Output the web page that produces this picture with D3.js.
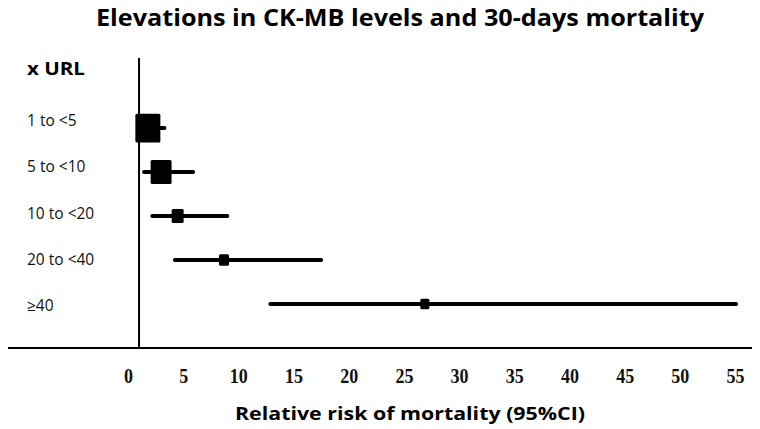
<!DOCTYPE html>
<html><head><meta charset="utf-8">
<script src="https://cdn.jsdelivr.net/npm/d3@7"></script>
<style>body{margin:0;background:#fff}svg{display:block}</style>
</head><body>
<svg id="c" width="760" height="429"></svg>
<script>
const categories = ["1 to <5", "5 to <10", "10 to <20", "20 to <40", "≥40"];
const estimates  = [1.8, 3.0, 4.5, 8.7, 26.9];
const lowerCI    = [1.2, 1.45, 2.2, 4.25, 12.9];
const upperCI    = [3.3, 5.9, 9.0, 17.5, 55.1];
const weights    = [100, 70, 23, 16, 13];
const xTicks     = [0, 5, 10, 15, 20, 25, 30, 35, 40, 45, 50, 55];

const svg = d3.select("#c");
const x = d3.scaleLinear().domain([0, 55]).range([128, 735]);
const yMark = d3.scalePoint().domain(categories).range([128, 304]);
const yLab = d3.scalePoint().domain(categories).range([126, 311]);
const size = d3.scaleSqrt().domain([0, 100]).range([0, 25]);

// title
svg.append("text").attr("x", 400).attr("y", 26).attr("text-anchor", "middle")
  .attr("font-family", "Open Sans").attr("font-weight", "bold").attr("font-size", 24)
  .attr("textLength", 608).attr("lengthAdjust", "spacingAndGlyphs")
  .text("Elevations in CK-MB levels and 30-days mortality");

svg.append("text").attr("x", 27).attr("y", 75)
  .attr("font-family", "Open Sans").attr("font-weight", "bold").attr("font-size", 18)
  .attr("textLength", 58).attr("lengthAdjust", "spacingAndGlyphs")
  .text("x URL");

// row labels
svg.append("g").selectAll("text").data(categories).join("text")
  .attr("x", 27).attr("y", d => yLab(d))
  .attr("font-family", "Open Sans").attr("font-size", 15.5).attr("fill", "#111")
  .text(d => d);

// reference line at 1
svg.append("line").attr("x1", x(1)).attr("x2", x(1)).attr("y1", 58).attr("y2", 348)
  .attr("stroke", "#000").attr("stroke-width", 2);

// horizontal axis line
svg.append("line").attr("x1", 8).attr("x2", 752).attr("y1", 348).attr("y2", 348)
  .attr("stroke", "#000").attr("stroke-width", 2);

// CI lines
const rows = categories.map((c, i) => ({c, est: estimates[i], lo: lowerCI[i], hi: upperCI[i], w: weights[i]}));
svg.append("g").selectAll("line").data(rows).join("line")
  .attr("x1", d => x(d.lo)).attr("x2", d => x(d.hi))
  .attr("y1", d => yMark(d.c)).attr("y2", d => yMark(d.c))
  .attr("stroke", "#000").attr("stroke-width", 4).attr("stroke-linecap", "round");

// squares
svg.append("g").selectAll("rect").data(rows).join("rect")
  .attr("x", d => x(d.est) - size(d.w) / 2)
  .attr("y", d => yMark(d.c) - size(d.w) * 1.15 / 2)
  .attr("width", d => size(d.w)).attr("height", d => size(d.w) * 1.15)
  .attr("rx", 1.5).attr("fill", "#000");

// x axis tick labels
const ax = svg.append("g").attr("transform", "translate(0,383) scale(1,1.22)")
  .call(d3.axisBottom(x).tickValues(xTicks).tickSize(0).tickPadding(0));
ax.select(".domain").remove();
ax.selectAll("text").attr("dy", 0).attr("y", 0)
  .attr("font-family", "Liberation Serif").attr("font-weight", "bold").attr("font-size", 18).attr("fill", "#111");

// axis title
svg.append("text").attr("x", 410).attr("y", 420).attr("text-anchor", "middle")
  .attr("font-family", "Open Sans").attr("font-weight", "bold").attr("font-size", 18.5)
  .attr("textLength", 350).attr("lengthAdjust", "spacingAndGlyphs")
  .text("Relative risk of mortality (95%CI)");
</script>
</body></html>
